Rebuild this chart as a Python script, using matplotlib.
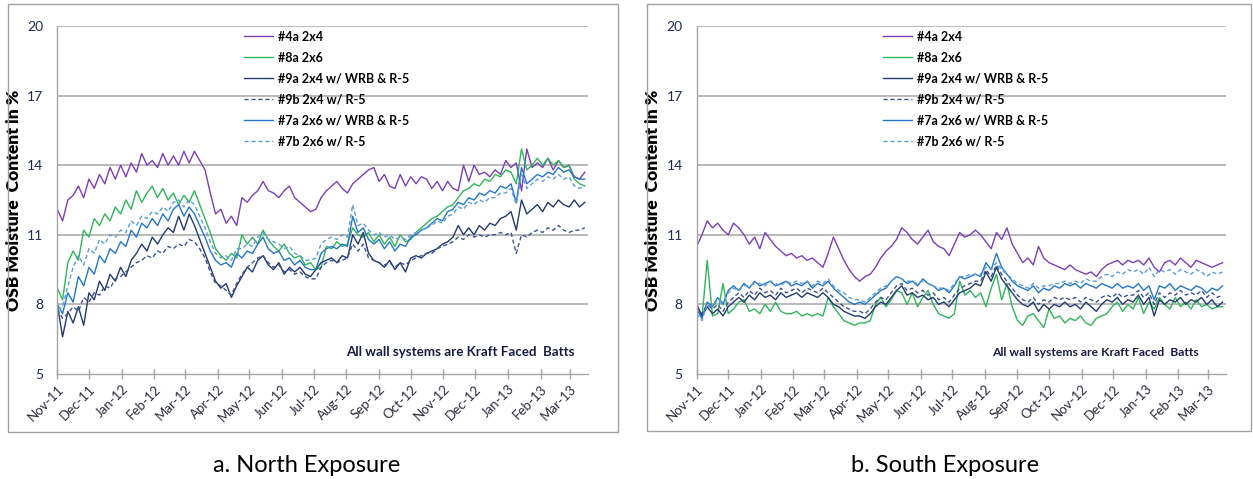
import numpy as np
import pandas as pd
import matplotlib
matplotlib.use("Agg")
import matplotlib.pyplot as plt
import matplotlib.dates as mdates
from matplotlib.patches import Rectangle

# sensor readings sampled every 5 days from 1 Nov 2011
dates = pd.date_range("2011-11-01", periods=101, freq="5D")

labels = ["#4a 2x4", "#8a 2x6", "#9a 2x4 w/ WRB & R-5",
          "#9b 2x4 w/ R-5", "#7a 2x6 w/ WRB & R-5", "#7b 2x6 w/ R-5"]

# ---- North exposure ----
north_4a = [12.1, 11.6, 12.5, 12.7, 13.1, 12.6, 13.4, 13.0, 13.6, 13.2,
            13.9, 13.4, 14.0, 13.5, 14.1, 13.7, 14.5, 14.0, 14.2, 13.9,
            14.5, 14.0, 14.4, 14.0, 14.6, 14.1, 14.6, 14.2, 13.8, 12.8,
            11.9, 12.1, 11.5, 11.8, 11.4, 12.6, 12.4, 12.7, 12.9, 13.3,
            12.9, 12.8, 12.6, 12.9, 13.1, 12.6, 12.4, 12.2, 12.0, 12.1,
            12.6, 12.9, 13.1, 13.3, 13.0, 12.8, 13.2, 13.4, 13.6, 13.8,
            13.9, 13.3, 13.6, 13.1, 13.0, 13.6, 13.1, 13.5, 13.2, 13.5,
            13.4, 13.0, 13.3, 12.9, 13.3, 13.0, 12.9, 14.0, 13.3, 14.0,
            13.6, 13.7, 13.5, 13.8, 13.6, 14.2, 13.9, 14.1, 12.9, 14.7,
            13.9, 14.1, 13.9, 14.3, 13.8, 14.2, 13.9, 14.0, 13.5, 13.4, 13.7]
north_8a = [8.7, 8.2, 9.8, 10.3, 9.9, 11.2, 10.9, 11.7, 11.4, 11.9,
            11.6, 12.2, 11.9, 12.5, 12.1, 12.9, 12.4, 12.8, 13.1, 12.6,
            13.0, 12.5, 12.8, 12.3, 12.7, 12.4, 12.9, 12.3, 11.7, 11.1,
            10.4, 10.1, 9.9, 10.2, 10.0, 11.0, 10.6, 10.9, 10.6, 11.2,
            10.8, 10.5, 10.3, 10.6, 10.2, 10.0, 10.1, 9.7, 9.8, 9.5,
            9.6, 10.5, 10.4, 10.7, 10.5, 10.6, 11.3, 11.0, 10.9, 11.1,
            10.7, 11.0, 10.6, 10.9, 10.5, 11.0, 10.7, 10.8, 11.1, 11.3,
            11.5, 11.7, 11.8, 12.0, 12.2, 12.3, 12.6, 12.9, 13.0, 13.2,
            13.1, 13.4, 13.3, 13.6, 13.5, 13.8, 13.7, 13.2, 14.7, 13.8,
            14.0, 14.3, 14.0, 14.3, 14.0, 14.2, 13.9, 14.0, 13.4, 13.2, 13.1]
north_9a = [8.0, 6.6, 7.7, 7.2, 7.9, 7.1, 8.5, 8.2, 9.0, 8.6,
            9.3, 9.0, 9.6, 9.2, 9.9, 10.2, 10.6, 10.3, 10.9, 10.6,
            11.0, 11.3, 11.1, 11.8, 11.2, 11.9, 11.4, 10.8, 10.2, 9.6,
            9.0, 8.7, 8.9, 8.3, 8.8, 9.2, 9.6, 9.4, 9.9, 10.1,
            9.7, 9.5, 9.8, 9.3, 9.6, 9.4, 9.6, 9.3, 9.2, 9.5,
            9.8, 9.9, 10.0, 9.8, 10.1, 10.0, 11.0, 10.6, 11.1, 10.2,
            9.9, 9.8, 9.6, 9.9, 9.5, 9.8, 9.4, 10.0, 10.1, 10.0,
            10.2, 10.3, 10.4, 10.6, 10.7, 10.9, 11.4, 11.0, 11.3, 11.0,
            11.4, 11.2, 11.5, 11.4, 11.7, 11.8, 12.0, 11.2, 12.5, 11.9,
            12.1, 12.3, 12.0, 12.4, 12.2, 12.5, 12.3, 12.2, 12.5, 12.2, 12.4]
north_9b = [7.8, 7.4, 7.6, 7.9, 7.7, 8.3, 8.1, 8.5, 8.4, 8.8,
            8.7, 9.1, 9.2, 9.4, 9.6, 9.8, 9.9, 10.1, 10.0, 10.3,
            10.2, 10.5, 10.4, 10.6, 10.5, 10.8, 10.7, 10.4, 10.0, 9.4,
            8.9, 8.8, 8.6, 8.4, 8.9, 9.3, 9.6, 9.8, 10.0, 10.1,
            9.8, 9.6, 9.7, 9.4, 9.5, 9.3, 9.4, 9.2, 9.1, 9.1,
            9.6, 9.8, 9.9, 9.8, 9.9, 10.0, 10.6, 10.3, 10.6, 10.0,
            9.9, 9.8, 9.7, 9.8, 9.6, 9.8, 9.7, 9.9, 10.0, 10.1,
            10.2, 10.2, 10.4, 10.5, 10.6, 10.7, 10.9, 10.8, 11.0, 10.9,
            11.0, 10.9, 11.0, 11.0, 11.1, 11.0, 11.1, 10.2, 11.0, 10.9,
            11.1, 11.2, 11.1, 11.3, 11.2, 11.4, 11.2, 11.1, 11.2, 11.2, 11.3]
north_7a = [8.0, 7.6, 8.5, 8.1, 9.2, 8.8, 9.6, 9.3, 10.1, 9.8,
            10.4, 10.2, 10.7, 10.5, 11.2, 10.9, 11.5, 11.3, 11.7, 11.4,
            11.9, 11.6, 12.1, 12.3, 11.8, 12.2, 11.9, 11.4, 10.9, 10.3,
            9.9, 9.7, 9.8, 9.6, 10.2, 10.0, 10.3, 10.2, 10.6, 10.9,
            10.4, 10.2, 10.3, 9.9, 10.0, 9.7, 9.9, 9.6, 9.5, 9.5,
            10.2, 10.4, 10.5, 10.4, 10.6, 10.5, 11.8, 11.1, 11.3, 10.8,
            10.6, 10.8, 10.4, 10.7, 10.3, 10.6, 10.5, 10.9, 11.0, 11.2,
            11.3, 11.5, 11.7, 11.6, 12.0, 12.1, 12.4, 12.3, 12.6, 12.5,
            12.8, 12.7, 12.9, 12.8, 13.1, 13.0, 13.2, 12.4, 13.9, 13.2,
            13.4, 13.6, 13.5, 13.7, 13.6, 13.9, 13.7, 13.8, 13.5, 13.4, 13.4]
north_7b = [7.8, 7.9, 8.8, 9.6, 10.1, 9.7, 10.4, 10.2, 10.8, 10.6,
            11.0, 10.9, 11.2, 11.1, 11.6, 11.4, 11.8, 11.7, 12.0, 11.9,
            12.2, 12.0, 12.4, 12.5, 12.2, 12.5, 12.3, 11.8, 11.3, 10.7,
            10.2, 10.0, 10.1, 9.9, 10.4, 10.4, 10.6, 10.5, 10.9, 11.1,
            10.8, 10.7, 10.6, 10.4, 10.5, 10.2, 10.1, 9.9, 9.9, 10.0,
            10.6, 10.8, 10.9, 10.8, 11.0, 10.9, 12.3, 11.4, 11.5, 11.2,
            11.0, 11.1, 10.9, 11.0, 10.8, 10.9, 10.8, 11.0, 11.1, 11.2,
            11.3, 11.4, 11.6, 11.5, 11.8, 11.9, 12.2, 12.1, 12.4, 12.3,
            12.5, 12.4, 12.6, 12.6, 12.8, 12.8, 13.0, 12.3, 13.6, 13.0,
            13.2, 13.4, 13.3, 13.5, 13.4, 13.6, 13.4, 13.5, 13.1, 13.0, 13.1]

# ---- South exposure ----
south_4a = [10.5, 11.0, 11.6, 11.3, 11.5, 11.2, 11.0, 11.5, 11.3, 11.0,
            10.6, 10.9, 10.4, 11.1, 10.8, 10.5, 10.3, 10.1, 10.2, 10.0,
            10.1, 9.9, 10.0, 9.8, 9.6, 10.2, 10.9, 10.4, 9.9, 9.5,
            9.2, 9.0, 9.2, 9.3, 9.6, 10.0, 10.3, 10.5, 10.8, 11.3,
            11.1, 10.8, 10.6, 10.9, 11.2, 10.7, 10.5, 10.4, 10.1, 10.6,
            11.1, 10.9, 11.0, 11.2, 11.0, 10.7, 10.4, 11.1, 10.8, 11.3,
            10.6, 10.2, 9.8, 10.0, 9.7, 10.5, 10.0, 9.8, 9.7, 9.6,
            9.5, 9.7, 9.5, 9.4, 9.3, 9.4, 9.2, 9.5, 9.7, 9.8,
            9.9, 9.7, 9.9, 9.8, 9.9, 9.7, 10.0, 9.6, 9.4, 9.8,
            9.9, 9.7, 10.0, 9.8, 9.6, 9.9, 9.8, 9.7, 9.6, 9.7, 9.8]
south_8a = [8.0, 7.4, 9.9, 7.5, 7.6, 8.9, 7.6, 7.8, 8.1, 8.2,
            7.7, 7.8, 7.6, 8.0, 7.7, 8.1, 7.7, 7.6, 7.6, 7.7,
            7.5, 7.6, 7.5, 7.6, 7.5, 8.3, 7.9, 7.6, 7.3, 7.2,
            7.1, 7.2, 7.2, 7.3, 8.0, 8.3, 7.9, 8.2, 8.6, 8.5,
            8.0, 8.5, 7.9, 8.3, 8.6, 8.0, 7.6, 7.5, 7.4, 7.6,
            9.0, 8.4, 8.6, 8.3, 8.5, 7.9, 8.7, 9.3, 8.2, 8.9,
            7.9, 7.3, 7.1, 7.5, 7.6, 7.3, 7.0, 7.8, 7.4, 7.5,
            7.2, 7.4, 7.3, 7.5, 7.2, 7.1, 7.4, 7.5, 7.6, 7.9,
            8.1, 7.7, 8.0, 7.8, 8.3, 7.6, 8.1, 7.8, 8.3, 8.0,
            7.8, 8.3, 7.9, 8.1, 7.8, 8.2, 7.9, 8.0, 7.8, 7.9, 7.9]
south_9a = [8.0, 7.5, 7.9, 7.6, 7.8, 7.5, 7.9, 8.1, 8.3, 8.1,
            8.4, 8.2, 8.5, 8.3, 8.4, 8.2, 8.5, 8.3, 8.4, 8.5,
            8.3, 8.5, 8.4, 8.3, 8.5, 8.3, 8.0, 7.9, 7.7, 7.6,
            7.5, 7.5, 7.4, 7.6, 7.9, 8.1, 8.0, 8.3, 8.6, 8.8,
            8.4, 8.5, 8.3, 8.4, 8.2, 8.3, 8.0, 8.1, 7.9, 8.2,
            8.5, 8.6, 8.7, 8.9, 8.8, 9.4, 9.0, 9.6, 9.1, 8.8,
            8.5, 8.2, 8.0, 7.9, 8.1, 7.7, 8.0, 7.8, 8.0, 7.9,
            8.1, 7.9, 8.0, 7.8, 8.1, 7.9, 7.7, 8.0, 8.2, 8.1,
            8.3, 8.0, 8.2, 8.1, 8.4, 8.0, 8.3, 7.5, 8.2, 8.0,
            8.2, 8.1, 8.3, 8.0, 8.2, 8.1, 8.3, 8.0, 8.2, 7.9, 8.1]
south_9b = [7.9, 7.6, 8.0, 7.8, 8.0, 7.7, 8.1, 8.3, 8.5, 8.3,
            8.6, 8.4, 8.7, 8.5, 8.6, 8.4, 8.7, 8.5, 8.6, 8.7,
            8.5, 8.7, 8.6, 8.5, 8.7, 8.5, 8.3, 8.1, 7.9, 7.8,
            7.7, 7.7, 7.6, 7.8, 8.1, 8.3, 8.2, 8.5, 8.8, 8.9,
            8.6, 8.7, 8.5, 8.6, 8.4, 8.5, 8.2, 8.3, 8.1, 8.4,
            8.7, 8.8, 8.9, 9.0, 9.0, 9.5, 9.2, 9.7, 9.3, 9.0,
            8.7, 8.4, 8.2, 8.1, 8.3, 8.0, 8.2, 8.1, 8.3, 8.2,
            8.3, 8.2, 8.3, 8.1, 8.3, 8.2, 8.1, 8.3, 8.4, 8.3,
            8.5, 8.3, 8.4, 8.4, 8.6, 8.3, 8.5, 8.0, 8.5, 8.3,
            8.5, 8.4, 8.6, 8.4, 8.5, 8.4, 8.6, 8.3, 8.5, 8.3, 8.4]
south_7a = [7.8, 7.4, 8.1, 7.9, 8.3, 8.0, 8.6, 8.8, 8.6, 8.9,
            8.7, 9.0, 8.8, 8.9, 9.0, 8.8, 8.9, 9.0, 8.8, 8.9,
            8.8, 9.0, 8.7, 8.9, 8.8, 9.0, 8.7, 8.5, 8.3, 8.1,
            8.0, 8.1, 8.0, 8.2, 8.4, 8.6, 8.7, 9.0, 9.2, 9.1,
            8.9, 9.0, 8.8, 9.1, 8.9, 8.8, 8.6, 8.7, 8.5, 8.8,
            9.2, 9.1, 9.2, 9.3, 9.2, 9.8, 9.5, 10.2, 9.6, 9.3,
            9.0, 8.8, 8.7, 8.6, 8.8, 8.5, 8.7, 8.6, 8.8, 8.7,
            8.9, 8.8, 8.9, 8.7, 8.9, 8.8, 8.7, 8.9, 8.8, 8.7,
            8.9, 8.7, 8.8, 8.7, 8.9, 8.6, 8.8, 8.2, 8.8, 8.7,
            8.9, 8.6, 8.8, 8.7, 8.6, 8.8, 8.7, 8.5, 8.7, 8.6, 8.8]
south_7b = [7.6, 7.3, 8.0, 7.9, 8.2, 8.1, 8.5, 8.7, 8.6, 8.8,
            8.8, 8.9, 8.9, 8.8, 9.0, 8.9, 8.8, 9.0, 8.9, 9.0,
            8.9, 9.0, 8.8, 9.0, 8.9, 9.1, 8.8, 8.6, 8.5, 8.3,
            8.2, 8.2, 8.1, 8.3, 8.5, 8.7, 8.8, 9.0, 9.2, 9.1,
            9.0, 9.0, 8.9, 9.0, 8.9, 8.8, 8.7, 8.7, 8.6, 8.9,
            9.2, 9.2, 9.3, 9.3, 9.3, 9.6, 9.5, 9.8, 9.5, 9.3,
            9.1, 8.9, 8.8, 8.7, 8.9, 8.7, 8.8, 8.8, 8.9, 8.9,
            9.0, 8.9, 9.0, 8.9, 9.1, 9.0, 9.0, 9.2, 9.3, 9.2,
            9.4, 9.3, 9.5, 9.4, 9.5, 9.3, 9.6, 9.2, 9.5, 9.4,
            9.5, 9.3, 9.5, 9.4, 9.3, 9.5, 9.4, 9.2, 9.4, 9.3, 9.4]

colors = ["#7B3FB5", "#2FB55A", "#233A6E", "#3A5290", "#2377C4", "#5B9BD5"]
styles = ["-", "-", "-", (0, (3, 2)), "-", (0, (3, 2))]

FONT = "Lato"
GRID = "#A6A6A6"
TICKC = "#1F2A55"

fig = plt.figure(figsize=(12.53, 4.79), dpi=100)

# panel frames
fig.patches.append(Rectangle((8 / 1253, 1 - 432 / 479), 610 / 1253, 428 / 479,
                             transform=fig.transFigure, fill=False,
                             edgecolor="#A0A0A0", lw=1.0))
fig.patches.append(Rectangle((647 / 1253, 1 - 431 / 479), 604 / 1253, 427 / 479,
                             transform=fig.transFigure, fill=False,
                             edgecolor="#A0A0A0", lw=1.0))

panels = [
    (57.3, 530.7, [north_4a, north_8a, north_9a, north_9b, north_7a, north_7b],
     575, 9.6, "a. North Exposure", 307),
    (696.7, 529.0, [south_4a, south_8a, south_9a, south_9b, south_7a, south_7b],
     1199, 8.7, "b. South Exposure", 945),
]

for left_px, w_px, series, note_x, note_fs, caption, cap_x in panels:
    ax = fig.add_axes([left_px / 1253, (479 - 374) / 479, w_px / 1253, 348 / 479])
    for vals, c, ls, lab in zip(series, colors, styles, labels):
        ax.plot(dates, vals, color=c, ls=ls, lw=1.0, label=lab)

    ax.set_ylim(5, 20)
    ax.set_yticks([5, 8, 11, 14, 17, 20])
    ax.set_xlim(pd.Timestamp("2011-11-01"), pd.Timestamp("2013-03-18"))
    ax.xaxis.set_major_locator(mdates.MonthLocator(bymonthday=1))
    ax.xaxis.set_major_formatter(mdates.DateFormatter("%b-%y"))

    for y in [8, 11, 14, 17, 20]:
        ax.axhline(y, color=GRID, lw=1.1, zorder=0)
    for s in ["top", "right"]:
        ax.spines[s].set_visible(False)
    for s in ["left", "bottom"]:
        ax.spines[s].set_color(GRID)
        ax.spines[s].set_linewidth(1.0)

    ax.tick_params(axis="y", length=0, pad=10, labelsize=10, labelcolor=TICKC)
    ax.tick_params(axis="x", direction="inout", length=6.5, width=1.0,
                   color=GRID, pad=3, labelsize=9.5, labelcolor="#2B2B3F")
    for t in ax.get_yticklabels():
        t.set_fontfamily(FONT)
    for t in ax.get_xticklabels():
        t.set_fontfamily(FONT)
        t.set_rotation(45)
        t.set_ha("right")
        t.set_rotation_mode("anchor")

    ax.set_ylabel("OSB Moisture  Content in %", fontsize=12.5, fontweight="heavy",
                  family=FONT, color="black", labelpad=4)
    ax.yaxis.set_label_coords(-35.5 / w_px, 0.5)

    ax.legend(loc="upper left", bbox_to_anchor=(0.352, 0.986), frameon=False,
              borderpad=0, borderaxespad=0, handlelength=2.3, handletextpad=0.4,
              labelspacing=0.72, prop=dict(family=FONT, weight="bold", size=9))

    ax.text((note_x - left_px) / w_px, 22 / 348, "All wall systems are Kraft Faced  Batts",
            transform=ax.transAxes, ha="right", va="center", fontsize=note_fs,
            fontweight="bold", family=FONT, color="#1A1A48")

    fig.text(cap_x / 1253, 1 - 465 / 479, caption, ha="center", va="center",
             fontsize=17, family=FONT, color="black")

fig.savefig("out.png", dpi=100)
